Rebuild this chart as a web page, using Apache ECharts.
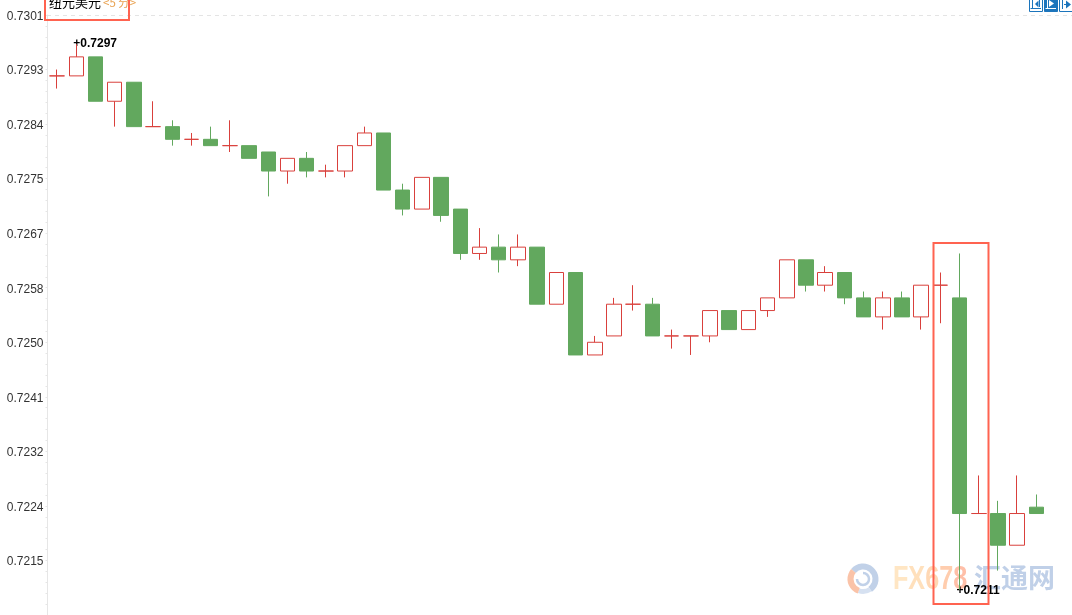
<!DOCTYPE html>
<html>
<head>
<meta charset="utf-8">
<title>纽元美元 5分</title>
<style>
  html, body { margin: 0; padding: 0; background: #fff; }
  #plot { width: 1072px; height: 615px; }
</style>
<script src="https://cdn.jsdelivr.net/npm/echarts@6/dist/echarts.min.js"></script>
</head>
<body>
<div id="plot"></div>
<script>
"use strict";

// Prices, one entry per 5 minute candle.
var opens = [
  0.7292, 0.7292, 0.7295, 0.7288, 0.7291, 0.7284, 0.7284, 0.7282, 0.7282, 0.7281,
  0.7281, 0.7280, 0.7277, 0.7279, 0.7277, 0.7277, 0.7281, 0.7283, 0.7274, 0.7271,
  0.7276, 0.7271, 0.7264, 0.7265, 0.7263, 0.7265, 0.7256, 0.7261, 0.7248, 0.7251,
  0.7256, 0.7256, 0.7251, 0.7251, 0.7251, 0.7255, 0.7252, 0.7255, 0.7257, 0.7263,
  0.7259, 0.7261, 0.7257, 0.7254, 0.7257, 0.7254, 0.7259, 0.7257, 0.7223, 0.7223,
  0.7218, 0.7224
];
var closes = [
  0.7292, 0.7295, 0.7288, 0.7291, 0.7284, 0.7284, 0.7282, 0.7282, 0.7281, 0.7281,
  0.7279, 0.7277, 0.7279, 0.7277, 0.7277, 0.7281, 0.7283, 0.7274, 0.7271, 0.7276,
  0.7270, 0.7264, 0.7265, 0.7263, 0.7265, 0.7256, 0.7261, 0.7248, 0.7250, 0.7256,
  0.7256, 0.7251, 0.7251, 0.7251, 0.7255, 0.7252, 0.7255, 0.7257, 0.7263, 0.7259,
  0.7261, 0.7257, 0.7254, 0.7257, 0.7254, 0.7259, 0.7259, 0.7223, 0.7223, 0.7218,
  0.7223, 0.7223
];
var lows = [
  0.7290, 0.7292, 0.7288, 0.7284, 0.7284, 0.7284, 0.7281, 0.7281, 0.7281, 0.7280,
  0.7279, 0.7273, 0.7275, 0.7276, 0.7276, 0.7276, 0.7281, 0.7274, 0.7270, 0.7271,
  0.7269, 0.7263, 0.7263, 0.7261, 0.7262, 0.7256, 0.7256, 0.7248, 0.7248, 0.7251,
  0.7255, 0.7251, 0.7249, 0.7248, 0.7250, 0.7252, 0.7252, 0.7254, 0.7257, 0.7258,
  0.7258, 0.7256, 0.7254, 0.7252, 0.7254, 0.7252, 0.7253, 0.7211, 0.7223, 0.7214,
  0.7218, 0.7223
];
var highs = [
  0.7293, 0.7297, 0.7295, 0.7291, 0.7291, 0.7288, 0.7285, 0.7283, 0.7284, 0.7285,
  0.7281, 0.7280, 0.7279, 0.7280, 0.7278, 0.7281, 0.7284, 0.7283, 0.7275, 0.7276,
  0.7276, 0.7271, 0.7268, 0.7267, 0.7267, 0.7265, 0.7261, 0.7261, 0.7251, 0.7257,
  0.7259, 0.7257, 0.7252, 0.7251, 0.7255, 0.7255, 0.7255, 0.7257, 0.7263, 0.7263,
  0.7262, 0.7261, 0.7258, 0.7258, 0.7258, 0.7259, 0.7261, 0.7264, 0.7229, 0.7225,
  0.7229, 0.7226
];

// The chart's ticks are not round numbers, the labels are the truncated values.
var yTicks = [0.72156, 0.72242, 0.72328, 0.72414, 0.72500, 0.72586, 0.72672, 0.72758, 0.72844, 0.72930, 0.73016];
var yTickLabels = ['0.7215', '0.7224', '0.7232', '0.7241', '0.7250', '0.7258', '0.7267', '0.7275', '0.7284', '0.7293', '0.7301'];
var yMin = 0.72070;
var yMax = 0.73016;

var RED = '#d9403c';
var GREEN = '#62a85e';
var BOX = '#ff6350';
var BLUE = '#1c75bc';

var categories = opens.map(function (v, i) { return String(i); });
var candles = opens.map(function (v, i) { return [v, closes[i], lows[i], highs[i]]; });

// Five small ticks per labelled step, running down past the last label.
var smallTicks = [];
var step = (yTicks[1] - yTicks[0]) / 5;
for (var t = yMax; t >= yMin; t -= step) {
  smallTicks.push(t);
}

var topIndex = highs.indexOf(Math.max.apply(null, highs));
var lowIndex = lows.indexOf(Math.min.apply(null, lows));

function priceNote(index, value, weight, dy) {
  return {
    coord: [index, value],
    symbol: 'circle',
    symbolSize: 0,
    label: {
      show: true,
      position: 'right',
      distance: 0,
      offset: [-3, dy],
      formatter: '+' + value.toFixed(4),
      color: '#000',
      fontFamily: 'Liberation Sans',
      fontSize: 12,
      fontWeight: weight
    }
  };
}

function iconBox(x, filled) {
  return {
    type: 'rect',
    shape: { x: x, y: -3, width: 13, height: 14.5 },
    style: { fill: filled ? BLUE : '#fff', stroke: BLUE, lineWidth: 1 },
    z: 20
  };
}

function iconLine(x1, y1, x2, y2, color) {
  return {
    type: 'line',
    shape: { x1: x1, y1: y1, x2: x2, y2: y2 },
    style: { stroke: color, lineWidth: 1 },
    z: 21
  };
}

function iconArrow(points, color) {
  return {
    type: 'polygon',
    shape: { points: points },
    style: { fill: color },
    z: 21
  };
}

function logoArc(r, from, to, width, color) {
  return {
    type: 'arc',
    shape: { cx: 863, cy: 579, r: r, startAngle: from * Math.PI / 180, endAngle: to * Math.PI / 180 },
    style: { stroke: color, lineWidth: width, fill: null, opacity: 0.85 },
    z: 0
  };
}

var decorations = [
  // watermark
  logoArc(12.5, -140, 55, 6, '#b6c9e4'),
  logoArc(12.5, 55, 110, 5, '#cfdcee'),
  logoArc(12.5, 110, 220, 6, '#f9b899'),
  logoArc(6, -90, 180, 2.5, '#b6c9e4'),
  {
    type: 'text',
    x: 893, y: 563,
    scaleX: 0.74,
    style: {
      text: '{a|F}{b|X}{c|6}{d|7}{e|8}',
      fontFamily: 'Liberation Sans',
      fontSize: 34,
      fontWeight: 'bold',
      rich: {
        a: { fill: '#ffe6c4', fontFamily: 'Liberation Sans', fontSize: 34, fontWeight: 'bold' },
        b: { fill: '#ffe0bc', fontFamily: 'Liberation Sans', fontSize: 34, fontWeight: 'bold' },
        c: { fill: '#ffd8b4', fontFamily: 'Liberation Sans', fontSize: 34, fontWeight: 'bold' },
        d: { fill: '#ffcdae', fontFamily: 'Liberation Sans', fontSize: 34, fontWeight: 'bold' },
        e: { fill: '#ffbfa8', fontFamily: 'Liberation Sans', fontSize: 34, fontWeight: 'bold' }
      }
    },
    z: 0
  },
  {
    type: 'text',
    x: 974, y: 564,
    style: {
      text: '汇通网',
      fontFamily: 'Noto Sans CJK SC',
      fontSize: 27,
      fontWeight: 'bold',
      fill: '#c0d0e8'
    },
    z: 0
  },
  // dashed line along the top label
  {
    type: 'line',
    shape: { x1: 47, y1: 15.5, x2: 1072, y2: 15.5 },
    style: { stroke: '#e4e4e4', lineWidth: 1, lineDash: [4, 4] },
    z: 1
  },
  // chart name, cut off by the top edge like the original
  {
    type: 'text',
    x: 49, y: -4,
    style: { text: '纽元美元', fontFamily: 'Noto Sans CJK SC', fontSize: 13, fill: '#000' },
    z: 15
  },
  {
    type: 'text',
    x: 103, y: -3,
    style: { text: '<5 分>', fontFamily: 'Noto Sans CJK SC', fontSize: 11.5, fill: '#e8a04e' },
    z: 15
  },
  // red highlight boxes
  {
    type: 'rect',
    shape: { x: 45, y: -5, width: 84, height: 25 },
    style: { fill: null, stroke: BOX, lineWidth: 2 },
    z: 16
  },
  {
    type: 'rect',
    shape: { x: 933.5, y: 243, width: 55, height: 361 },
    style: { fill: null, stroke: BOX, lineWidth: 2 },
    z: 16
  },
  // toolbar icons
  iconBox(1029.5, false),
  iconLine(1032.5, 0, 1032.5, 9, BLUE),
  iconLine(1030.5, 8.5, 1041, 8.5, BLUE),
  iconArrow([[1035, 4], [1038.5, 0.5], [1038.5, 7.5]], BLUE),
  iconLine(1039.5, 0, 1039.5, 7, BLUE),
  iconBox(1044.5, true),
  iconLine(1047.5, 0, 1047.5, 9, '#fff'),
  iconLine(1045.5, 8.5, 1056, 8.5, '#fff'),
  iconArrow([[1049, 0], [1049, 7], [1054, 3.5]], '#fff'),
  iconBox(1059.5, false),
  iconLine(1062.5, 0, 1062.5, 9, BLUE),
  iconLine(1064, 4.5, 1068, 4.5, BLUE),
  iconArrow([[1066, 0.5], [1066, 8.5], [1071, 4.5]], BLUE)
];

var chart = echarts.init(document.getElementById('plot'), null, { renderer: 'canvas' });
chart.setOption({
  backgroundColor: '#fff',
  animation: false,
  grid: { left: 47.5, right: 26, top: 15, bottom: 0 },
  xAxis: {
    type: 'category',
    data: categories,
    boundaryGap: true,
    axisLine: { show: false },
    axisTick: { show: false },
    axisLabel: { show: false },
    splitLine: { show: false }
  },
  yAxis: {
    type: 'value',
    min: yMin,
    max: yMax,
    axisLine: { show: true, onZero: false, lineStyle: { color: '#e6e6e6', width: 1 } },
    axisTick: { show: true, length: 2, customValues: smallTicks, lineStyle: { color: '#e6e6e6' } },
    splitLine: { show: false },
    axisLabel: {
      show: true,
      customValues: yTicks,
      margin: 4,
      formatter: function (value) {
        return '{tick|' + yTickLabels[yTicks.indexOf(value)] + '}';
      },
      rich: {
        // labels sit a little under their tick in the original
        tick: {
          padding: [3, 0, 0, 0],
          color: '#333',
          fontFamily: 'Liberation Sans',
          fontSize: 12
        }
      }
    }
  },
  series: [{
    type: 'candlestick',
    data: candles,
    barWidth: 15,
    z: 5,
    itemStyle: {
      color: '#fff',
      color0: GREEN,
      borderColor: RED,
      borderColor0: GREEN,
      borderColorDoji: RED,
      borderWidth: 1
    },
    markPoint: {
      silent: true,
      data: [
        priceNote(topIndex, highs[topIndex], 'bold', 0),
        priceNote(lowIndex, lows[lowIndex], 'bold', 1)
      ]
    }
  }],
  graphic: decorations
});
</script>
</body>
</html>
